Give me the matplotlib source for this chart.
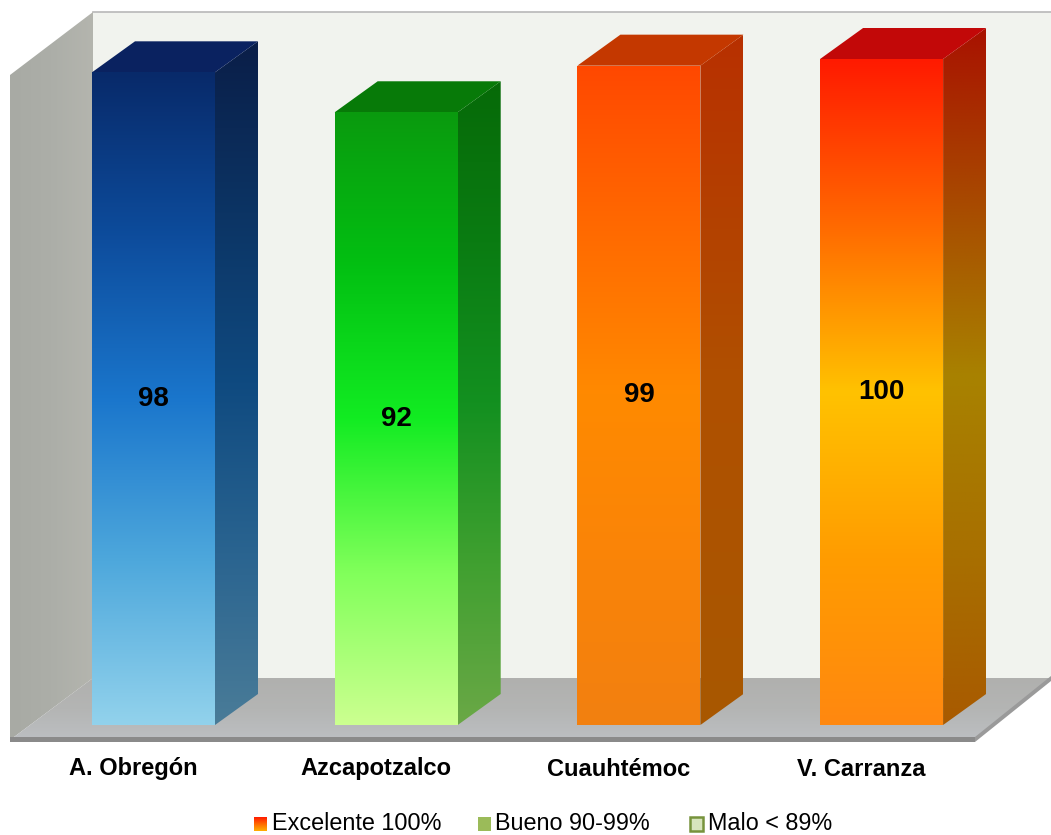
import numpy as np
import matplotlib
matplotlib.use("Agg")
import matplotlib.pyplot as plt
from matplotlib.patches import Polygon
from matplotlib.colors import LinearSegmentedColormap

plt.rcParams['font.family'] = ['Liberation Sans', 'DejaVu Sans']

# ---------------- data ----------------
categories = ["A. Obregón", "Azcapotzalco", "Cuauhtémoc", "V. Carranza"]
values = [98, 92, 99, 100]
legend_labels = ["Excelente 100%", "Bueno 90-99%", "Malo < 89%"]

# gradient stops (bottom -> top) for front / side faces, plus top-face colour
front_stops = [
    ["#92d2ec", "#4ea8dc", "#1a76cc", "#0d4c9c", "#082a6a"],
    ["#ccff90", "#80ff5a", "#12ec22", "#02c012", "#0a9a0e"],
    ["#f28010", "#fa8408", "#ff8a00", "#ff6a00", "#ff4800"],
    ["#ff8810", "#ff9c00", "#ffc200", "#ff6a00", "#ff1a00"],
]
side_stops = [
    ["#4a7c98", "#2a6490", "#0f4a80", "#0c3464", "#0a1e48"],
    ["#6aa846", "#40a030", "#139020", "#0a7c12", "#066a08"],
    ["#a85800", "#ac5400", "#b05000", "#b44000", "#b83000"],
    ["#a85a00", "#a87000", "#a88200", "#a84a00", "#a81200"],
]
top_colors = ["#0a2260", "#077a08", "#c43800", "#c20808"]
legend_colors = [None, "#9bbb59", "#d7e4bd"]

# ---------------- geometry / scales ----------------
W, H = 1051, 835
Y0PX, PXPERU = 725.0, 6.66      # value 0 at pixel row 725, 6.66 px per unit
X0PX, PXPERCAT = 153.5, 242.7   # category 0 centred at pixel 153.5

fig = plt.figure(figsize=(W / 100, H / 100), dpi=100)
fig.patch.set_facecolor("white")
ax = fig.add_axes([0, 0, 1, 1])
ax.axis("off")
XL = ((0 - X0PX) / PXPERCAT, (W - X0PX) / PXPERCAT)
YL = ((Y0PX - H) / PXPERU, Y0PX / PXPERU)


def P(x, y):
    return ((x - X0PX) / PXPERCAT, (Y0PX - y) / PXPERU)


def grad_fill(verts, colors, z, horizontal=False):
    poly = Polygon(verts, closed=True, facecolor="none", edgecolor="none")
    ax.add_patch(poly)
    xs = [v[0] for v in verts]
    ys = [v[1] for v in verts]
    cmap = LinearSegmentedColormap.from_list("g", colors)
    g = np.linspace(0, 1, 256)
    img = g.reshape(1, -1) if horizontal else g.reshape(-1, 1)
    im = ax.imshow(img, extent=(min(xs), max(xs), min(ys), max(ys)),
                   origin="lower", cmap=cmap, aspect="auto", zorder=z,
                   interpolation="bilinear")
    im.set_clip_path(poly)


# ---------------- walls / floor ----------------
back = [P(93, 12), P(W, 12), P(W, 678), P(93, 678)]
ax.add_patch(Polygon(back, closed=True, facecolor="#f1f3ee", edgecolor="none", zorder=1))
ax.plot([P(93, 12)[0], P(W, 12)[0]], [P(93, 12)[1]] * 2, color="#b8b8b8", lw=1.2, zorder=1.5)

left = [P(10, 75), P(93, 12), P(93, 678), P(10, 740)]
grad_fill(left, ["#a8aaa4", "#acaea8", "#b4b5ae"], 2, horizontal=True)

floor = [P(10, 740), P(975, 740), P(W, 678), P(93, 678)]
grad_fill(floor, ["#bcbfc2", "#b4b5b4", "#b0b0ae"], 2)
ax.add_patch(Polygon([P(10, 737), P(975, 737), P(975, 742), P(10, 742)], closed=True,
                     facecolor="#8a8a8a", edgecolor="none", zorder=2.5))
ax.add_patch(Polygon([P(975, 737), P(W, 676), P(W, 681), P(975, 742)], closed=True,
                     facecolor="#9a9a9a", edgecolor="none", zorder=2.5))

# ---------------- 3D bars ----------------
bw = 123 / PXPERCAT      # front width in category units
ddx = 43 / PXPERCAT      # depth offset x
ddy = 31 / PXPERU        # depth offset y (value units)

for i, v in enumerate(values):
    x0, x1 = i - bw / 2, i + bw / 2
    front = [(x0, 0), (x1, 0), (x1, v), (x0, v)]
    side = [(x1, 0), (x1 + ddx, ddy), (x1 + ddx, v + ddy), (x1, v)]
    top = [(x0, v), (x0 + ddx, v + ddy), (x1 + ddx, v + ddy), (x1, v)]
    grad_fill(side, side_stops[i], 4)
    ax.add_patch(Polygon(top, closed=True, facecolor=top_colors[i], edgecolor="none", zorder=4))
    grad_fill(front, front_stops[i], 5)
    ax.text(i, v / 2, str(v), ha="center", va="center", fontsize=20,
            fontweight="bold", color="black", zorder=6)

# category labels
for i, c in enumerate(categories):
    ax.text(i - 20 / PXPERCAT, P(0, 769)[1], c, ha="center", va="center",
            fontsize=17, fontweight="bold", color="black", zorder=6)

# ---------------- legend ----------------
sq_x = [254, 478, 690]
tx_x = [272, 495, 708]
ly = 824
for k, lab in enumerate(legend_labels):
    sq = [P(sq_x[k], ly + 7), P(sq_x[k] + 13, ly + 7), P(sq_x[k] + 13, ly - 7), P(sq_x[k], ly - 7)]
    if k == 0:
        grad_fill(sq, ["#ffb000", "#ff6a00", "#ff1a00"], 6)
    else:
        ec = "#77933c" if k == 2 else "none"
        ax.add_patch(Polygon(sq, closed=True, facecolor=legend_colors[k], edgecolor=ec,
                             lw=1.8, zorder=6))
    ax.text(P(tx_x[k], ly)[0], P(0, ly)[1], lab, ha="left", va="center",
            fontsize=16.8, color="black", zorder=6)

ax.set_xlim(*XL)
ax.set_ylim(*YL)
fig.savefig("out.png", dpi=100, facecolor="white")
